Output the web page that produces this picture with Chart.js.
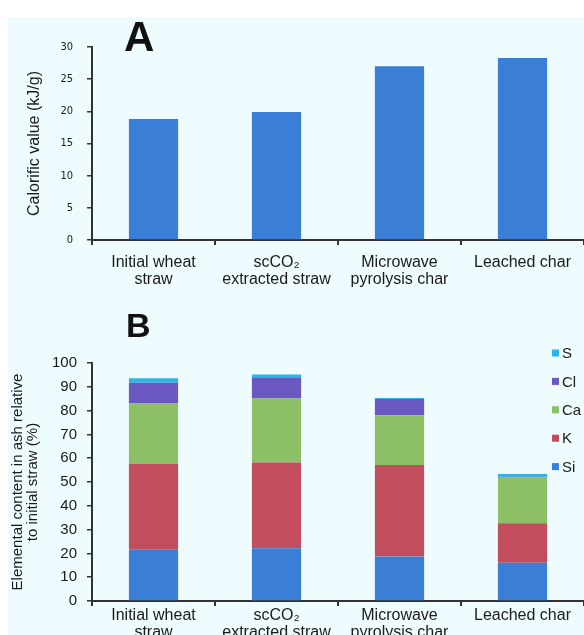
<!DOCTYPE html>
<html>
<head>
<meta charset="utf-8">
<script src="https://cdn.jsdelivr.net/npm/chart.js@4/dist/chart.umd.min.js"></script>
<style>
  html, body { margin: 0; padding: 0; background: #ffffff; width: 584px; height: 635px; overflow: hidden; }
  #panel { position: absolute; left: 8px; top: 17px; width: 576px; height: 618px; background: #eefcff; }
  .wrap { position: absolute; left: 0; width: 584px; }
  #wrapA { top: 0; height: 300px; }
  #wrapB { top: 300px; height: 335px; }
</style>
</head>
<body>
<div id="panel"></div>
<div class="wrap" id="wrapA"><canvas id="chartA" width="584" height="300"></canvas></div>
<div class="wrap" id="wrapB"><canvas id="chartB" width="584" height="335"></canvas></div>
<script>
// Samples along the x axis (multi-line labels)
const categories = [
  ['Initial wheat', 'straw'],
  ['scCO\u2082', 'extracted straw'],
  ['Microwave', 'pyrolysis char'],
  ['Leached char']
];

// Panel A: calorific value, kJ/g
const calorificValue = [18.8, 19.9, 27.0, 28.3];
const calorificTicks = [0, 5, 10, 15, 20, 25, 30];

// Panel B: elemental content in ash relative to initial straw, %
const elementNames = ['Si', 'K', 'Ca', 'Cl', 'S'];
const siContent = [21.7, 22.2, 18.7, 16.1];
const kContent  = [36.0, 36.0, 38.4, 16.6];
const caContent = [25.3, 26.9, 20.9, 19.2];
const clContent = [8.7, 8.6, 6.9, 0.3];
const sContent  = [1.9, 1.5, 0.4, 1.2];
const elementTicks = [0, 10, 20, 30, 40, 50, 60, 70, 80, 90, 100];

const elementColors = ['#3a7fd5', '#c24d5d', '#8cbf66', '#6a57bf', '#2cb4e2'];
const barBlue = '#3a7fd5';
const axisColor = '#333333';
const textColor = '#1a1a1a';
const sans = "'Liberation Sans', Arial, Helvetica, sans-serif";
const narrow = "'Liberation Sans Narrow', 'DejaVu Sans Condensed', 'Liberation Sans', sans-serif";

// Big panel letter drawn on the canvas
const panelLetter = {
  id: 'panelLetter',
  afterDraw(chart, args, opts) {
    const ctx = chart.ctx;
    ctx.save();
    ctx.fillStyle = '#111111';
    ctx.font = opts.font;
    ctx.textBaseline = 'alphabetic';
    ctx.textAlign = 'left';
    ctx.fillText(opts.text, opts.x, opts.y);
    ctx.restore();
  }
};

// Stacked legend on the right, top series first
const sideLegend = {
  id: 'sideLegend',
  afterDraw(chart, args, opts) {
    if (!opts.display) return;
    const ctx = chart.ctx;
    const ds = chart.data.datasets;
    ctx.save();
    ctx.font = opts.font;
    ctx.textBaseline = 'middle';
    ctx.textAlign = 'left';
    let y = opts.y;
    for (let i = ds.length - 1; i >= 0; i--) {
      ctx.fillStyle = ds[i].backgroundColor;
      ctx.fillRect(opts.x, y - opts.box / 2, opts.box, opts.box);
      ctx.fillStyle = textColor;
      ctx.fillText(ds[i].label, opts.x + opts.box + 3, y + 1);
      y += opts.step;
    }
    ctx.restore();
  }
};

function fixedWidth(w) { return scale => { scale.width = w; }; }
function fixedHeight(h) { return scale => { scale.height = h; }; }

function xAxis(height, pad) {
  return {
    offset: true,
    afterFit: fixedHeight(height),
    border: { display: true, color: axisColor, width: 2 },
    grid: { display: true, offset: true, drawOnChartArea: false, drawTicks: true, tickLength: 5, color: axisColor, lineWidth: 2 },
    ticks: { color: textColor, padding: pad, maxRotation: 0, autoSkip: false, font: { family: sans, size: 16, lineHeight: 1.05 } }
  };
}

function yAxis(opts) {
  return {
    min: 0,
    max: opts.ticks[opts.ticks.length - 1],
    afterFit: fixedWidth(92),
    afterBuildTicks: scale => { scale.ticks = opts.ticks.map(v => ({ value: v })); },
    border: { display: true, color: axisColor, width: 2 },
    grid: { display: true, drawOnChartArea: false, drawTicks: true, tickLength: 5, color: axisColor, lineWidth: 1.5 },
    ticks: { color: textColor, padding: opts.tickPad, font: opts.tickFont },
    title: {
      display: true,
      text: opts.title,
      color: textColor,
      font: { family: sans, size: opts.titleSize, lineHeight: 1 },
      padding: { top: opts.titlePad, bottom: 0 }
    }
  };
}

Chart.defaults.animation = false;

new Chart(document.getElementById('chartA'), {
  type: 'bar',
  data: {
    labels: categories,
    datasets: [{
      label: 'Calorific value',
      data: calorificValue,
      backgroundColor: barBlue,
      borderWidth: 0,
      categoryPercentage: 1.0,
      barPercentage: 0.4
    }]
  },
  options: {
    responsive: false,
    devicePixelRatio: 1,
    layout: { padding: { top: 47, left: 0, right: 0, bottom: 0 } },
    plugins: {
      legend: { display: false },
      tooltip: { enabled: false },
      panelLetter: { text: 'A', x: 124, y: 51, font: "bold 42px " + sans },
      sideLegend: { display: false }
    },
    scales: {
      x: xAxis(60, 9),
      y: yAxis({
        ticks: calorificTicks,
        tickPad: 14,
        tickFont: { family: narrow, size: 11 },
        title: 'Calorific value (kJ/g)',
        titleSize: 16,
        titlePad: 27
      })
    }
  },
  plugins: [panelLetter, sideLegend]
});

const elementSeries = [siContent, kContent, caContent, clContent, sContent];

new Chart(document.getElementById('chartB'), {
  type: 'bar',
  data: {
    labels: categories,
    datasets: elementNames.map((name, i) => ({
      label: name,
      data: elementSeries[i],
      backgroundColor: elementColors[i],
      borderWidth: 0,
      categoryPercentage: 1.0,
      barPercentage: 0.4
    }))
  },
  options: {
    responsive: false,
    devicePixelRatio: 1,
    layout: { padding: { top: 63, left: 0, right: 0, bottom: 0 } },
    plugins: {
      legend: { display: false },
      tooltip: { enabled: false },
      panelLetter: { text: 'B', x: 126, y: 37, font: "bold 34px " + sans },
      sideLegend: { display: true, x: 552, y: 53, step: 28.4, box: 7, font: "15px " + sans }
    },
    scales: {
      x: Object.assign(xAxis(34, 1), { stacked: true }),
      y: Object.assign(yAxis({
        ticks: elementTicks,
        tickPad: 10,
        tickFont: { family: sans, size: 15 },
        title: ['Elemental content in ash relative', 'to initial straw (%)'],
        titleSize: 15,
        titlePad: 10.5
      }), { stacked: true })
    }
  },
  plugins: [panelLetter, sideLegend]
});
</script>
</body>
</html>
